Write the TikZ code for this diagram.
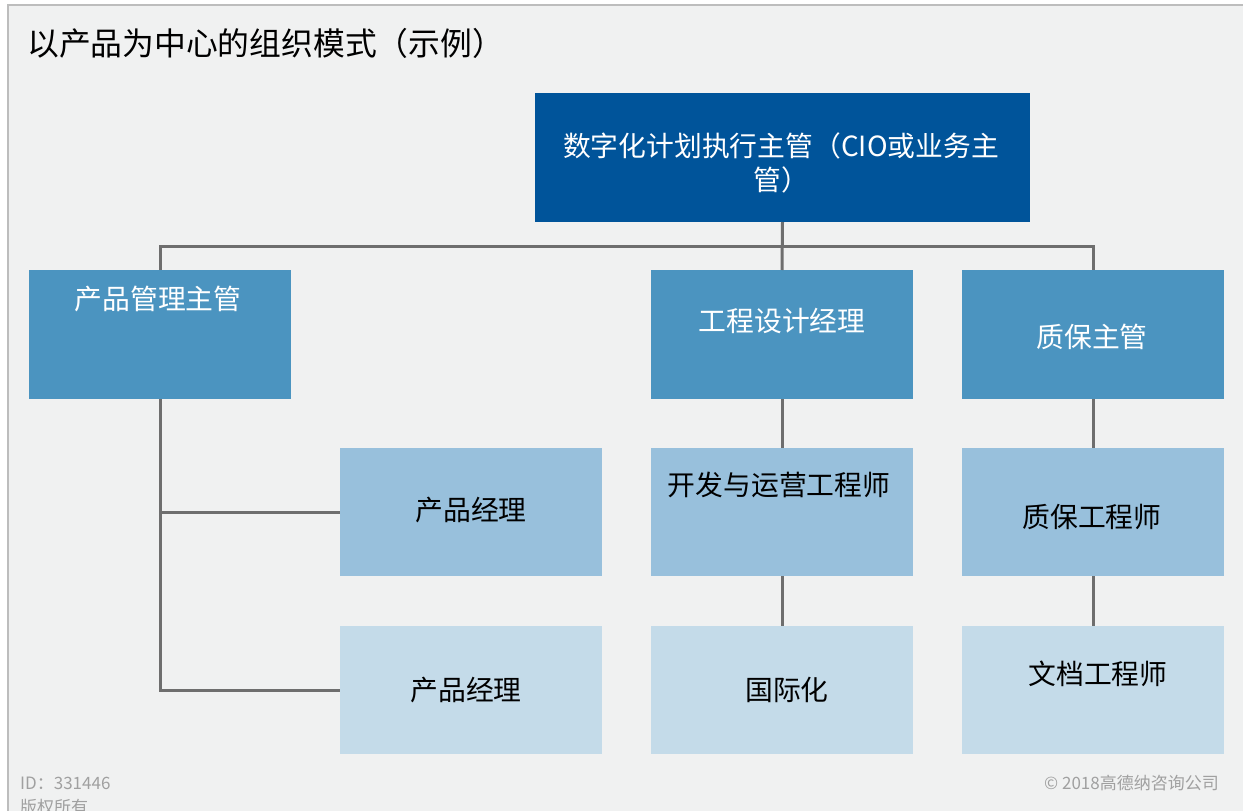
\documentclass[tikz,border=0pt]{standalone}
\usepackage{fontspec}
\setmainfont{Noto Sans CJK SC}
\definecolor{bgc}{HTML}{F0F1F1}
\definecolor{edgec}{HTML}{BDBDBD}
\definecolor{lv1}{HTML}{00549A}
\definecolor{lv2}{HTML}{4B94C0}
\definecolor{lv3}{HTML}{98C0DC}
\definecolor{lv4}{HTML}{C4DBE9}
\definecolor{linec}{HTML}{6E6E6E}
\definecolor{footc}{HTML}{A0A0A0}
\tikzset{
  box/.style={draw=none, inner sep=0pt, outer sep=0pt, rectangle},
  topbox/.style={box, fill=lv1, minimum width=495pt, minimum height=129pt},
  midbox/.style={box, fill=lv2, minimum width=262pt, minimum height=129pt},
  lowbox/.style={box, fill=lv3, minimum width=262pt, minimum height=128pt},
  botbox/.style={box, fill=lv4, minimum width=262pt, minimum height=128pt},
  wtxt/.style={text=white, inner sep=0pt, font=\fontsize{27.8}{34}\selectfont, align=center},
  btxt/.style={text=black, inner sep=0pt, font=\fontsize{27.8}{34}\selectfont, align=center},
  conn/.style={draw=linec, line width=3pt},
  foot/.style={text=footc, inner sep=0pt, font=\fontsize{17}{20}\selectfont}
}
\begin{document}
\begin{tikzpicture}[x=1pt,y=-1pt]
\useasboundingbox (0,0) rectangle (1243,811);
\fill[white] (0,0) rectangle (1243,811);
\fill[bgc] (8,5) rectangle (1243,811);
\draw[edgec, line width=1.6pt] (8,811) -- (8,5) -- (1243,5);

\node[inner sep=0pt, anchor=west, font=\fontsize{31.8}{36}\selectfont] (title) at (27,43) {以产品为中心的组织模式（示例）};

% boxes
\node[topbox] (top) at (782.5,157.5) {};
\node[midbox] (l2a) at (160,334.5) {};
\node[midbox] (l2b) at (782,334.5) {};
\node[midbox] (l2c) at (1093,334.5) {};
\node[lowbox] (l3a) at (471,512) {};
\node[lowbox] (l3b) at (782,512) {};
\node[lowbox] (l3c) at (1093,512) {};
\node[botbox] (l4a) at (471,690) {};
\node[botbox] (l4b) at (782,690) {};
\node[botbox] (l4c) at (1093,690) {};

% labels
\node[wtxt] (ttop) at (781,163) {数字化计划执行主管（CIO或业务主\\管）};
\node[wtxt] (t2a) at (158,299) {产品管理主管};
\node[wtxt] (t2b) at (782,321) {工程设计经理};
\node[wtxt] (t2c) at (1092,337) {质保主管};
\node[btxt] (t3a) at (471,510) {产品经理};
\node[btxt] (t3b) at (779,485) {开发与运营工程师};
\node[btxt] (t3c) at (1092,517) {质保工程师};
\node[btxt] (t4a) at (466,690) {产品经理};
\node[btxt] (t4b) at (787,690) {国际化};
\node[btxt] (t4c) at (1098,674) {文档工程师};

% connectors
\coordinate (bus) at (782,246);
\draw[conn] (top.south) -- (l2b.north);
\draw[conn] (l2a.north) |- (bus) -| (l2c.north);
\draw[conn] (l2a.south) |- (l3a.west);
\draw[conn] (l2a.south) |- (l4a.west);
\draw[conn] (l2b.south) -- (l3b.north);
\draw[conn] (l3b.south) -- (l4b.north);
\draw[conn] (l2c.south) -- (l3c.north);
\draw[conn] (l3c.south) -- (l4c.north);

% footer
\node[foot, anchor=west] (fid) at (20,783) {ID：331446};
\node[foot, anchor=west] (fcr) at (20,807) {版权所有};
\node[foot, anchor=east] (fco) at (1219,783) {© 2018高德纳咨询公司};
\end{tikzpicture}
\end{document}
